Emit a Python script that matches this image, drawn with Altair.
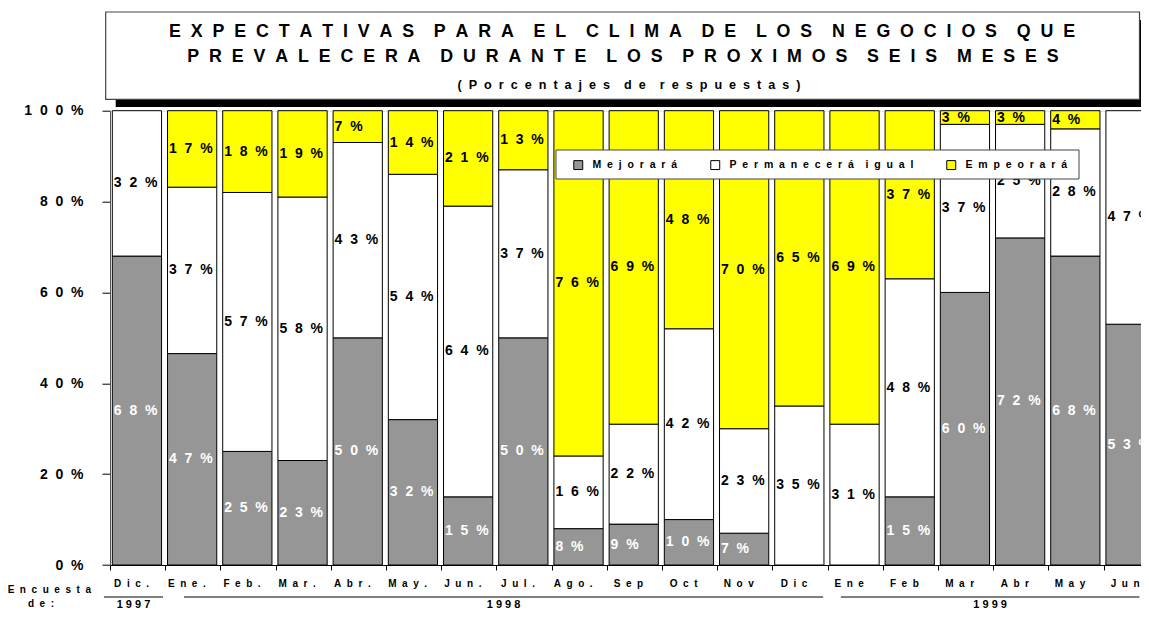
import altair as alt
import pandas as pd

# ---------------- data ----------------
MONTHS = ["Dic.", "Ene.", "Feb.", "Mar.", "Abr.", "May.", "Jun.", "Jul.", "Ago.",
          "Sep", "Oct", "Nov", "Dic", "Ene", "Feb", "Mar", "Abr", "May", "Jun"]
SERIES = ["Mejorará", "Permanecerá igual", "Empeorará"]
COLORS = ["#969696", "#ffffff", "#ffff00"]
MEJORARA = [68, 47, 25, 23, 50, 32, 15, 50, 8, 9, 10, 7, 0, 0, 15, 60, 72, 68, 53]
PERMANECERA = [32, 37, 57, 58, 43, 54, 64, 37, 16, 22, 42, 23, 35, 31, 48, 37, 25, 28, 47]
EMPEORARA = [0, 17, 18, 19, 7, 14, 21, 13, 76, 69, 48, 70, 65, 69, 37, 3, 3, 4, 0]
YEARS = ["1997", "1998", "1999"]
Y_TICKS = [0, 20, 40, 60, 80, 100]

TITLE_1 = "EXPECTATIVAS PARA EL CLIMA DE LOS NEGOCIOS QUE"
TITLE_2 = "PREVALECERA DURANTE LOS PROXIMOS SEIS MESES"
SUBTITLE = "(Porcentajes de respuestas)"
SURVEY = ["Encuesta", "de:"]

# ---------------- layout ----------------
W, H = 1031, 454.3
STEP = 55.2
FONT = "Liberation Sans"
NB = "\u00a0"
YEAR_SPANS = [(-0.11, 0.96), (1.34, 12.92), (13.24, 18.65)]
BAR_L, BAR_R = 0.042, 0.934


def spaced(s, n=2, w=None):
    if w is None:
        w = n + 2
    return (NB * w).join((NB * n).join(word) for word in s.split(" "))


rows = []
for i, m in enumerate(MONTHS):
    vals = [MEJORARA[i], PERMANECERA[i], EMPEORARA[i]]
    tot = sum(vals)
    cum = 0
    for s, v in zip(SERIES, vals):
        y0 = cum / tot * 100
        cum += v
        y1 = cum / tot * 100
        if v == 0:
            continue
        lbl = spaced(f"{v}%")
        if v < 10:
            lbl = NB * 2 + lbl
        rows.append(dict(mes=m, idx=i, serie=s, valor=v, y0=y0, y1=y1,
                         ym=(y0 + y1) / 2, x0=i + BAR_L, x1=i + BAR_R,
                         etiqueta=lbl,
                         tcolor="white" if s == SERIES[0] else "black"))
df = pd.DataFrame(rows)

months_df = pd.DataFrame({"xc": [i + 0.5 for i in range(len(MONTHS))],
                          "lbl": [spaced(m) for m in MONTHS]})
years_df = pd.DataFrame({"anio": [spaced(y, 1) for y in YEARS],
                         "a": [s[0] for s in YEAR_SPANS],
                         "b": [s[1] for s in YEAR_SPANS],
                         "c": [(s[0] + s[1]) / 2 for s in YEAR_SPANS]})

xs = alt.Scale(domain=[0, W / STEP], nice=False, zero=False)
ys = alt.Scale(domain=[0, 100], nice=False)

y_expr = "''"
for v in reversed(Y_TICKS):
    y_expr = f"datum.value == {v} ? '{spaced(str(v) + '%')}' : " + y_expr
leg_expr = "datum.label"
for s in reversed(SERIES):
    leg_expr = f"datum.label == '{s}' ? '{spaced(s)}' : " + leg_expr

X_AXIS = alt.Axis(values=list(range(len(MONTHS))), labels=False, tickSize=5,
                  tickColor="black", domainColor="black", grid=False, title=None)
Y_AXIS = alt.Axis(values=Y_TICKS, labelExpr=y_expr, tickSize=8, tickColor="black",
                  domainColor="#555", labelFont=FONT, labelFontSize=14,
                  labelFontWeight="bold", labelColor="black", labelPadding=19,
                  grid=False, title=None)

one = alt.Data(values=[{"k": 0}])

shadow = alt.Chart(one).mark_rect(color="black").encode(
    x=alt.value(5.7), x2=alt.value(1060), y=alt.value(-90.7), y2=alt.value(-3.6))
box = alt.Chart(one).mark_rect(fill="white", stroke="#444", strokeWidth=1.2).encode(
    x=alt.value(-4.3), x2=alt.value(1029.5), y=alt.value(-98.7), y2=alt.value(-11.4))


def txt(text, x, y, size, align="center"):
    return alt.Chart(one).mark_text(font=FONT, fontSize=size, fontWeight="bold",
                                    align=align, baseline="middle", color="black").encode(
        x=alt.value(x), y=alt.value(y), text=alt.value(text))


t1 = txt(spaced(TITLE_1), 512, -78.7, 17.8)
t2 = txt(spaced(TITLE_2), 513, -53.7, 17.8)
t3 = txt(spaced(SUBTITLE), 519, -25.7, 12.6)

bars = alt.Chart(df).mark_rect(stroke="black", strokeWidth=1).encode(
    x=alt.X("x0:Q", scale=xs, axis=X_AXIS),
    x2="x1:Q",
    y=alt.Y("y0:Q", scale=ys, axis=Y_AXIS),
    y2="y1:Q",
    color=alt.Color("serie:N", scale=alt.Scale(domain=SERIES, range=COLORS),
                    legend=alt.Legend(title=None, orient="none", legendX=463, legendY=49,
                                      direction="horizontal", symbolType="square",
                                      symbolSize=80, symbolStrokeColor="black",
                                      symbolStrokeWidth=1, labelFont=FONT,
                                      labelFontSize=10.5, labelFontWeight="bold",
                                      labelColor="black", labelOffset=9, columnPadding=30,
                                      labelLimit=400, padding=0, labelExpr=leg_expr)),
)

labels = alt.Chart(df).mark_text(font=FONT, fontSize=14, fontWeight="bold",
                                 align="left", baseline="middle", dx=1.5).encode(
    x=alt.X("x0:Q", scale=xs, axis=X_AXIS),
    y=alt.Y("ym:Q", scale=ys, axis=Y_AXIS),
    text="etiqueta:N",
    color=alt.Color("tcolor:N", scale=None),
)

legbox = alt.Chart(one).mark_rect(fill="white", stroke="#444", strokeWidth=1).encode(
    x=alt.value(446), x2=alt.value(969), y=alt.value(39.3), y2=alt.value(68.3))

mlabels = alt.Chart(months_df).mark_text(font=FONT, fontSize=10, fontWeight="bold",
                                         align="center", baseline="middle", dx=-6,
                                         color="black").encode(
    x=alt.X("xc:Q", scale=xs, axis=X_AXIS), y=alt.value(H + 19), text="lbl:N")

enc1 = txt(spaced(SURVEY[0]), -19, H + 25, 10, align="right")
enc2 = txt(spaced(SURVEY[1]), -69, H + 39, 10)

ylines = alt.Chart(years_df).mark_rule(color="black", strokeWidth=1).encode(
    x=alt.X("a:Q", scale=xs, axis=X_AXIS), x2="b:Q", y=alt.value(H + 32))
ytext = alt.Chart(years_df).mark_text(font=FONT, fontSize=11, fontWeight="bold",
                                      align="center", baseline="middle",
                                      color="black").encode(
    x=alt.X("c:Q", scale=xs, axis=X_AXIS), y=alt.value(H + 40), text="anio:N")

chart = alt.layer(shadow, box, t1, t2, t3, bars, labels, legbox, mlabels,
                  enc1, enc2, ylines, ytext).properties(
    width=W, height=H,
    autosize=alt.AutoSizeParams(type="none"),
    padding={"left": 102, "top": 102.7, "right": 0, "bottom": 44},
    background="white",
).configure_view(strokeWidth=0).configure(font=FONT)

chart.save("out.html", embed_options={"renderer": "svg", "actions": False})
